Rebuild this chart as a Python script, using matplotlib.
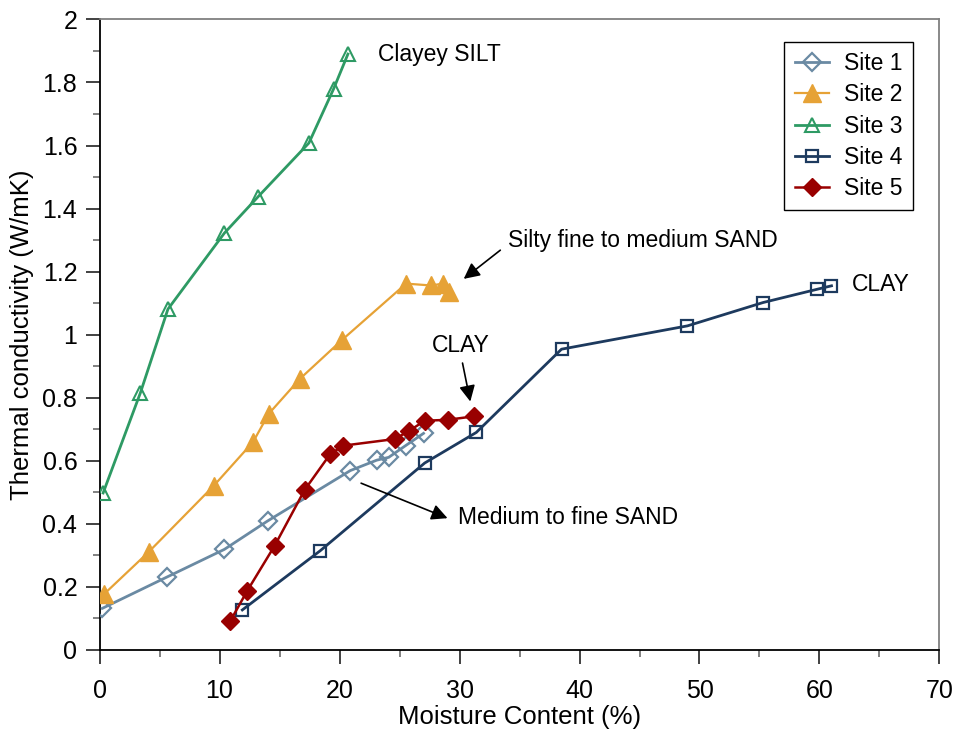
import matplotlib
matplotlib.use("Agg")
import matplotlib.pyplot as plt
from matplotlib.ticker import MultipleLocator

plt.rcParams['font.family'] = ['Liberation Sans', 'DejaVu Sans']

# ---- data ----
site1_x = [0.23, 5.6, 10.4, 14.0, 20.9, 23.1, 24.1, 25.5, 27.0]
site1_y = [0.132, 0.231, 0.319, 0.409, 0.569, 0.602, 0.611, 0.648, 0.687]

site2_x = [0.4, 4.1, 9.5, 12.8, 14.1, 16.7, 20.2, 25.55, 27.65, 28.6, 29.1]
site2_y = [0.178, 0.311, 0.52, 0.66, 0.749, 0.86, 0.983, 1.162, 1.156, 1.162, 1.136]

site3_x = [0.3, 3.4, 5.7, 10.4, 13.2, 17.45, 19.5, 20.7]
site3_y = [0.498, 0.815, 1.081, 1.322, 1.437, 1.608, 1.779, 1.89]

site4_x = [11.9, 18.4, 27.1, 31.4, 38.5, 49.0, 55.3, 59.8, 61.0]
site4_y = [0.127, 0.315, 0.593, 0.69, 0.954, 1.028, 1.102, 1.144, 1.155]

site5_x = [10.9, 12.3, 14.6, 17.1, 19.2, 20.3, 24.6, 25.8, 27.1, 29.0, 31.2]
site5_y = [0.092, 0.187, 0.331, 0.508, 0.62, 0.648, 0.669, 0.695, 0.727, 0.73, 0.741]

labels = ["Site 1", "Site 2", "Site 3", "Site 4", "Site 5"]

fig = plt.figure(figsize=(9.57, 7.29), dpi=100)
ax = fig.add_axes([0.104, 0.1084, 0.8777, 0.865])

ax.plot(site1_x, site1_y, color='#6a8aa3', lw=2, marker='D', ms=9,
        mfc='none', mec='#6a8aa3', mew=1.6, label=labels[0], zorder=3)
ax.plot(site2_x, site2_y, color='#e6a236', lw=1.6, marker='^', ms=13,
        mfc='#e6a236', mec='#e6a236', label=labels[1], zorder=3)
ax.plot(site3_x, site3_y, color='#2e9a64', lw=2, marker='^', ms=10,
        mfc='none', mec='#2e9a64', mew=1.5, label=labels[2], zorder=3)
ax.plot(site4_x, site4_y, color='#1d3a5e', lw=2, marker='s', ms=9,
        mfc='none', mec='#1d3a5e', mew=1.6, label=labels[3], zorder=3)
ax.plot(site5_x, site5_y, color='#990000', lw=1.8, marker='D', ms=9.5,
        mfc='#990000', mec='#990000', label=labels[4], zorder=4)

ax.set_xlim(0, 70)
ax.set_ylim(0, 2)
ax.xaxis.set_major_locator(MultipleLocator(10))
ax.xaxis.set_minor_locator(MultipleLocator(5))
ax.yaxis.set_minor_locator(MultipleLocator(0.1))
ax.set_yticks([0, 0.2, 0.4, 0.6, 0.8, 1.0, 1.2, 1.4, 1.6, 1.8, 2.0])
ax.set_yticklabels(['0', '0.2', '0.4', '0.6', '0.8', '1', '1.2', '1.4', '1.6', '1.8', '2'])
ax.tick_params(which='major', direction='out', length=10, width=1.3, labelsize=18,
               color='#333333')
ax.tick_params(axis='y', which='major', pad=6)
ax.tick_params(axis='x', which='major', pad=11)
ax.tick_params(which='minor', direction='out', length=5, width=1.3, color='#777777')

for s in ['left', 'bottom']:
    ax.spines[s].set_color('black')
    ax.spines[s].set_linewidth(1.3)
for s in ['top', 'right']:
    ax.spines[s].set_color('#808080')
    ax.spines[s].set_linewidth(1.3)

ax.set_xlabel('Moisture Content (%)', fontsize=18.5, labelpad=1)
ax.set_ylabel('Thermal conductivity (W/mK)', fontsize=18.5, labelpad=6)

leg = ax.legend(loc='upper right', bbox_to_anchor=(0.968, 0.9645), fontsize=16.5,
                frameon=True, fancybox=False, edgecolor='black', framealpha=1,
                handlelength=1.5, borderpad=0.45, labelspacing=0.36, handletextpad=0.65,
                borderaxespad=0)
leg.get_frame().set_linewidth(1.0)

fs = 16.5
ax.text(23.2, 1.889, 'Clayey SILT', fontsize=fs, va='center', ha='left')
ax.text(62.7, 1.158, 'CLAY', fontsize=fs, va='center', ha='left')
ax.text(30.1, 0.966, 'CLAY', fontsize=fs, va='center', ha='center')
ax.text(34.0, 1.30, 'Silty fine to medium SAND', fontsize=fs, va='center', ha='left')
ax.text(29.9, 0.42, 'Medium to fine SAND', fontsize=fs, va='center', ha='left')

arrow = dict(arrowstyle='-|>', color='black', lw=1.2, mutation_scale=24, shrinkA=0, shrinkB=0)
ax.annotate('', xy=(30.35, 1.177), xytext=(33.4, 1.268), arrowprops=arrow)
ax.annotate('', xy=(30.9, 0.788), xytext=(30.25, 0.910), arrowprops=arrow)
ax.annotate('', xy=(29.0, 0.418), xytext=(21.8, 0.529), arrowprops=arrow)

fig.savefig('out.png', dpi=100)
